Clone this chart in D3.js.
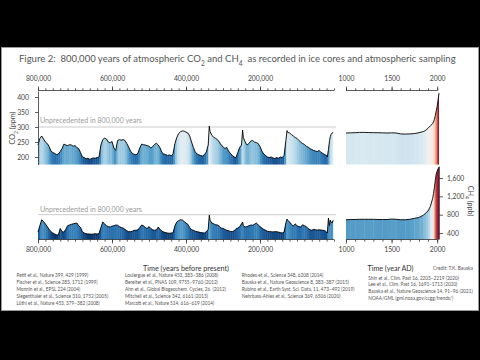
<!DOCTYPE html>
<html><head><meta charset="utf-8">
<script src="https://cdn.jsdelivr.net/npm/d3@7/dist/d3.min.js"></script>
<style>html,body{margin:0;padding:0;background:#000;}svg{display:block;}</style>
</head><body>
<svg id="chart" width="480" height="360"></svg>
<script>
// ---------- DATA ----------
// Ice-core ages (thousand years before present)
const paleoAgesKa = [
 800,795,790,785,780,775,770,765,760,755,
 750,745,740,735,730,725,720,715,710,705,
 700,695,690,685,680,675,670,665,660,655,
 650,645,640,635,630,625,620,615,610,605,
 600,595,590,585,580,575,570,565,560,555,
 550,545,540,535,530,525,520,515,510,505,
 500,495,490,485,480,475,470,465,460,455,
 450,445,440,435,430,425,420,415,410,405,
 400,395,390,385,380,375,370,365,360,355,
 350,345,340,337,335,330,325,320,315,310,
 305,300,295,290,285,280,275,270,265,260,
 255,250,247,245,240,235,230,225,220,215,
 210,205,200,195,190,185,180,175,170,165,
 160,155,150,145,140,135,130,127,125,120,
 115,110,105,100,95,90,85,80,75,70,
 65,60,55,50,45,40,35,30,25,20,
 18,15,12,10,8,5,2];
// CO2 (ppm)
const paleoCO2 = [
 240,262,270,260,250,245,235,220,215,212,
 208,210,218,228,243,240,238,241,240,236,
 238,232,228,215,200,198,194,196,192,195,
 197,196,198,200,240,258,263,260,250,247,
 252,230,222,255,258,256,258,255,245,233,
 220,212,209,207,212,230,243,241,240,238,
 236,230,235,242,246,240,230,215,210,208,
 205,207,204,210,245,265,278,284,287,286,
 283,280,270,250,232,217,210,207,205,203,
 208,217,240,303,285,272,266,262,258,250,
 240,235,228,232,220,212,205,200,198,215,
 232,240,290,265,250,240,245,253,255,250,
 248,245,235,220,210,205,200,198,200,197,
 195,198,196,200,198,205,255,288,282,280,
 275,270,265,262,255,250,245,242,236,233,
 228,225,222,220,218,222,215,212,208,205,
 200,225,255,268,275,280,282];
// CH4 (ppb)
const paleoCH4 = [
 420,560,690,650,600,540,480,430,400,380,
 360,356,500,430,420,480,560,575,590,600,
 610,618,560,520,430,400,385,380,378,375,
 380,385,378,390,520,640,600,560,540,530,
 550,560,575,570,540,520,509,480,450,430,
 430,440,460,460,470,520,575,560,520,500,
 540,500,470,460,470,530,480,440,420,410,
 400,395,400,405,560,640,670,690,684,650,
 618,590,520,470,460,440,430,420,410,405,
 400,430,480,790,680,618,600,580,575,550,
 510,500,480,460,450,435,430,450,490,509,
 540,600,640,560,530,540,560,575,570,590,
 618,580,540,509,480,460,440,430,430,425,
 430,430,420,410,400,420,620,705,680,640,
 590,550,600,560,540,530,580,560,540,500,
 470,460,480,470,465,470,465,460,455,420,
 400,727,560,680,640,620,680];
// Last millennium (year AD)
const yearsAD = [1000,1050,1100,1150,1200,1250,1300,1350,1400,1450,1500,1550,1600,1650,1700,1750,1800,1850,1875,1900,1925,1950,1960,1970,1980,1990,2000,2010,2020];
const co2AD   = [280,280.5,281,282,282,281.5,281,281,280.5,280,280.5,280,277,276.5,277,278,281,285,289,296,304,311,317,326,339,354,369,390,413];
const ch4AD   = [690,695,695,700,700,700,700,695,695,695,705,700,690,690,700,720,740,790,840,880,980,1150,1260,1400,1560,1690,1750,1800,1840];

// Ticks & labels
const paleoMajorTicksKa = [800,600,400,200];
const adMajorTicks = [1000,1500,2000];
const co2Ticks = [200,250,300,350,400];
const ch4Ticks = [400,800,1200,1600];
const co2Threshold = 300;
const ch4Threshold = 800;
const titleParts = [
  {t:"Figure 2:  800,000 years of atmospheric CO"},{t:"2",sub:true},{t:" and CH"},{t:"4",sub:true},
  {t:"  as recorded in ice cores and atmospheric sampling"}];
const unprecedentedLabel = "Unprecedented in 800,000 years";
const xTitlePaleo = "Time (years before present)";
const xTitleAD = "Time (year AD)";
const creditText = "Credit: T.K. Bauska";
const refsCol1 = ["Petit et al., Nature 399, 429 (1999)","Fischer et al., Science 283, 1712 (1999)","Monnin et al., EPSL 224 (2004)","Siegenthaler et al., Science 310, 1752 (2005)","Lüthi et al., Nature 453, 379–382 (2008)"];
const refsCol2 = ["Loulergue et al., Nature 453, 383–386 (2008)","Bereiter et al., PNAS 109, 9755–9760 (2012)","Ahn et al., Global Biogeochem. Cycles, 26  (2012)","Mitchell et al., Science 342, 6161 (2013)","Marcott et al., Nature 514, 616–619 (2014)"];
const refsCol3 = ["Rhodes et al., Science 348, 6208 (2014)","Bauska et al., Nature Geoscience 8, 383–387 (2015)","Rubino et al., Earth Syst. Sci. Data, 11, 473–492 (2019)","Nehrbass-Ahles et al., Science 369, 6506 (2020)"];
const refsCol4 = ["Shin et al., Clim. Past 16, 2203–2219 (2020)","Lee et al., Clim. Past 16, 1691–1713 (2020)","Bauska et al., Nature Geoscience 14, 91–96 (2021)","NOAA/GML (gml.noaa.gov/ccgg/trends/)"];

// ---------- DRAW ----------
const FONT = "Lato, 'Open Sans', sans-serif";
const svg = d3.select("#chart");
svg.append("rect").attr("x",1.5).attr("y",47.5).attr("width",477).attr("height",263)
   .attr("fill","#fff").attr("stroke","#9a9a9a");

const xPaleo = d3.scaleLinear().domain([800,0]).range([38,334]);
const xAD = d3.scaleLinear().domain([1000,2020]).range([346,439]);
const yCO2 = d3.scaleLinear().domain([175,420]).range([164.5,91]);
const yCH4 = d3.scaleLinear().domain([270,1860]).range([239,166.1]);
const colCO2 = d3.scaleDiverging(d3.interpolateRdBu).domain([410,300,180]);
const colCH4 = d3.scaleDiverging(d3.interpolateRdBu).domain([1850,1150,350]);

// measure a string at 20px and return the font size giving width w
function sizeFor(s, w){
  const t = svg.append("text").attr("x",0).attr("y",-50).attr("font-size",20)
    .attr("font-family",FONT).style("white-space","pre").text(s);
  const bw = t.node().getComputedTextLength();
  t.remove();
  return bw>0 ? 20*w/bw : 6;
}
function fit(sel, w){
  const fs0 = parseFloat(sel.attr("font-size"));
  sel.attr("font-size",20);
  const bw = sel.node().getBBox().width;
  sel.attr("font-size", bw>0 ? 20*w/bw : fs0);
}
function txt(x,y,s,fs,o={}){
  const t = svg.append("text").attr("x",x).attr("y",y).attr("font-size",fs)
    .attr("font-family",FONT).attr("fill",o.fill||"#444").style("white-space","pre").text(s);
  if (o.anchor) t.attr("text-anchor",o.anchor);
  if (o.width) t.attr("font-size", sizeFor(s,o.width));
  return t;
}

// threshold lines
function threshold(yv, textY){
  svg.append("line").attr("x1",xPaleo(800)).attr("x2",xPaleo(0)+2).attr("y1",yv).attr("y2",yv)
    .attr("stroke","#cbcbcb").attr("stroke-width",1);
  txt(40,textY,unprecedentedLabel,6.5,{fill:"#9a9a9a",width:102});
}
threshold(yCO2(co2Threshold), 123.3);
threshold(yCH4(ch4Threshold), 211.5);

let clipN = 0;
function drawSeries(xs, vals, xS, yS, col, base){
  const n = Math.min(xs.length, vals.length);
  const pts = d3.range(n).map(i=>({x:xS(xs[i]), y:yS(vals[i]), v:vals[i]}));
  const id = "clip"+(clipN++);
  const area = d3.area().x(d=>d.x).y0(base).y1(d=>d.y);
  svg.append("clipPath").attr("id",id).append("path").attr("d",area(pts));
  const top = d3.min(pts,d=>d.y)-2;
  const g = svg.append("g").attr("clip-path",`url(#${id})`);
  g.selectAll("rect").data(pts.slice(0,-1)).join("rect")
    .attr("x",(d,i)=>Math.min(d.x,pts[i+1].x))
    .attr("width",(d,i)=>Math.abs(pts[i+1].x-d.x)+0.35)
    .attr("y",top).attr("height",base-top+1)
    .attr("fill",(d,i)=>col((d.v+pts[i+1].v)/2));
  svg.append("path").attr("d",d3.line().x(d=>d.x).y(d=>d.y)(pts))
    .attr("fill","none").attr("stroke","#000").attr("stroke-width",0.9).attr("stroke-linejoin","round");
}
drawSeries(paleoAgesKa, paleoCO2, xPaleo, yCO2, colCO2, 164.5);
drawSeries(yearsAD, co2AD, xAD, yCO2, colCO2, 164.5);
drawSeries(paleoAgesKa, paleoCH4, xPaleo, yCH4, colCH4, 239.5);
drawSeries(yearsAD, ch4AD, xAD, yCH4, colCH4, 239.5);

function styleAxis(g){
  g.selectAll(".domain").remove();
  g.selectAll("line").attr("stroke","#333").attr("stroke-width",0.8);
  g.selectAll("text").attr("font-family",FONT).attr("font-size",6.8).attr("fill","#444");
}
function xAxes(y, top){
  const mk = top ? d3.axisTop : d3.axisBottom;
  const g1 = svg.append("g").attr("transform",`translate(0,${y})`);
  g1.call(mk(xPaleo).tickValues(d3.range(0,801,20)).tickSize(2.2).tickFormat(""));
  g1.append("g").call(mk(xPaleo).tickValues(paleoMajorTicksKa).tickSize(4)
     .tickPadding(top?6:4).tickFormat(d=>d3.format(",")(d*1000)));
  g1.append("line").attr("x1",xPaleo(800)).attr("x2",xPaleo(0));
  styleAxis(g1);
  const g2 = svg.append("g").attr("transform",`translate(0,${y})`);
  g2.call(mk(xAD).tickValues(d3.range(1000,2001,100)).tickSize(2.2).tickFormat(""));
  g2.append("g").call(mk(xAD).tickValues(adMajorTicks).tickSize(4).tickPadding(top?6:4).tickFormat(d3.format("d")));
  g2.append("line").attr("x1",xAD(1000)).attr("x2",xAD(2000));
  styleAxis(g2);
}
xAxes(90.5, true);
xAxes(239.5, false);

const gy1 = svg.append("g").attr("transform","translate(38,0)")
  .call(d3.axisLeft(yCO2).tickValues(co2Ticks).tickSize(3).tickPadding(6).tickSizeOuter(0));
gy1.selectAll(".domain").attr("stroke","#333").attr("stroke-width",0.8);
gy1.selectAll("line").attr("stroke","#333").attr("stroke-width",0.8);
gy1.selectAll("text").attr("font-family",FONT).attr("font-size",6.8).attr("fill","#444");

const gy2 = svg.append("g").attr("transform","translate(439,0)")
  .call(d3.axisRight(yCH4).tickValues(ch4Ticks).tickSize(4).tickPadding(4).tickSizeOuter(0));
gy2.selectAll(".domain").attr("stroke","#333").attr("stroke-width",0.8);
gy2.selectAll("line").attr("stroke","#333").attr("stroke-width",0.8);
gy2.selectAll("text").attr("font-family",FONT).attr("font-size",6.8).attr("fill","#444");

// axis titles
function subLabel(x,y,rot,main,sub,rest){
  const t = svg.append("text").attr("transform",`translate(${x},${y}) rotate(${rot})`)
    .attr("text-anchor","middle").attr("font-family",FONT).attr("font-size",7.2).attr("fill","#444")
    .style("white-space","pre");
  t.append("tspan").text(main);
  t.append("tspan").text(sub).attr("font-size","0.7em").attr("baseline-shift","sub");
  t.append("tspan").text(rest);
  return t;
}
subLabel(14.5,128,-90,"CO","2"," (ppm)");
subLabel(467.5,201,90,"CH","4"," (ppb)");

// title
const title = svg.append("text").attr("x",19).attr("y",62).attr("font-size",10)
  .attr("font-family",FONT).attr("fill","#555").style("white-space","pre");
titleParts.forEach(p=>{
  const ts = title.append("tspan").text(p.t);
  if (p.sub) ts.attr("font-size","0.7em").attr("baseline-shift","sub");
});
fit(title, 437);

txt(186,271,xTitlePaleo,8,{anchor:"middle",width:86,fill:"#333"});
txt(390.5,271,xTitleAD,8,{anchor:"middle",width:46,fill:"#333"});
txt(453,269.5,creditText,4.5,{anchor:"middle",width:40,fill:"#555"});

const refFont = sizeFor(refsCol3[2], 113);
function refs(col,x,y0,dy){
  col.forEach((s,i)=>txt(x,y0+i*dy,s,refFont,{fill:"#555"}));
}
refs(refsCol1,16.5,277,7);
refs(refsCol2,125,277,7);
refs(refsCol3,241.7,277,7);
refs(refsCol4,368.3,279.5,6.7);
</script>
</body></html>
